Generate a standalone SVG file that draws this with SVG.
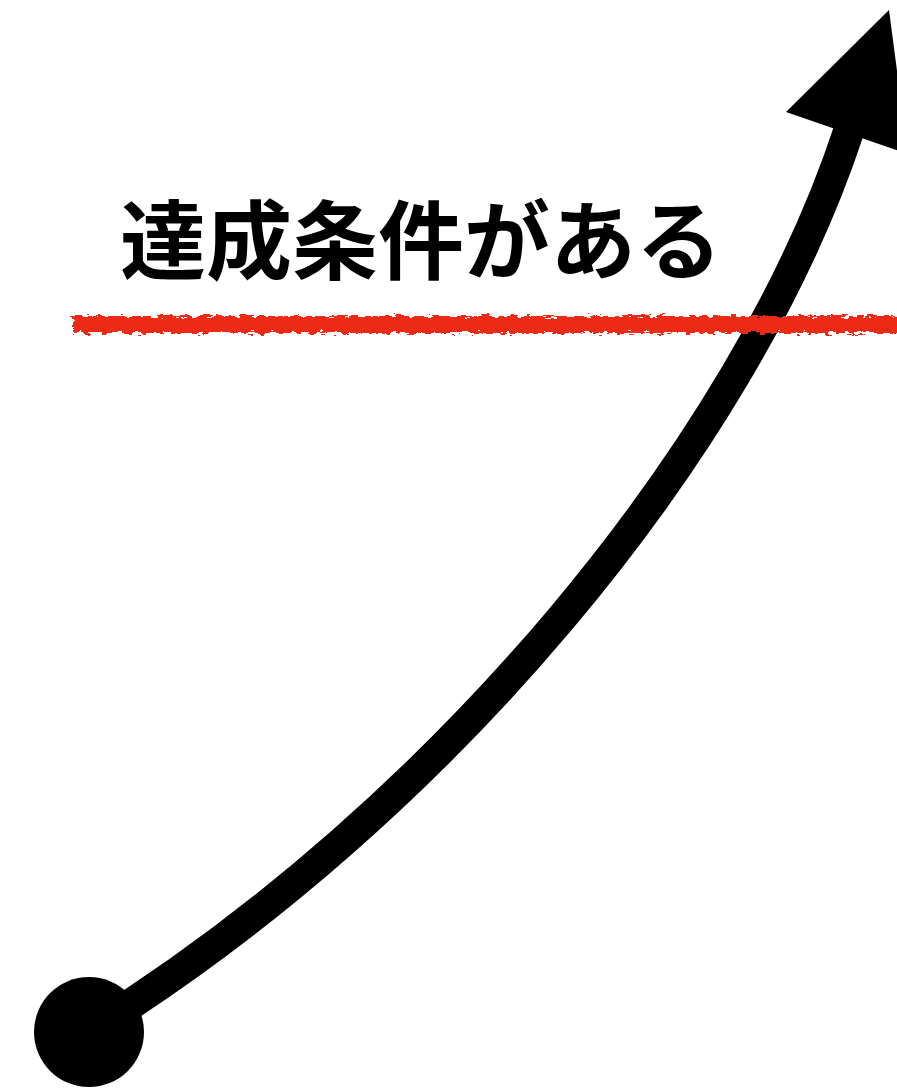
<svg xmlns="http://www.w3.org/2000/svg" width="897" height="1089" viewBox="0 0 897 1089">
  <style>
    .label { font-family: "Noto Sans CJK JP", "Noto Sans", sans-serif; font-weight: bold; font-size: 86px; fill: #000; }
    .shaft { fill: none; stroke: #000; stroke-width: 31; }
    .head { fill: #000; }
    .dot { fill: #000; }
    .redline { fill: #ec2a14; }
  </style>
  <defs>
    <filter id="rough" x="-5%" y="-100%" width="110%" height="300%">
      <feTurbulence type="fractalNoise" baseFrequency="0.12 0.35" numOctaves="3" seed="4" result="noise"/>
      <feDisplacementMap in="SourceGraphic" in2="noise" scale="10" xChannelSelector="R" yChannelSelector="G"/>
    </filter>
  </defs>
  <rect width="897" height="1089" fill="#fff"/>
  <g id="connectors">
    <path class="shaft" d="M89,1031 C439,814 745,448 849,130"/>
    <polygon class="head" points="889,10 786,112 908,154"/>
  </g>
  <g id="start-node">
    <circle class="dot" cx="89" cy="1032" r="55"/>
  </g>
  <g id="threshold-line">
    <rect class="redline" x="73" y="316" width="832" height="17" filter="url(#rough)"/>
  </g>
  <g id="label-node">
    <text class="label" x="421" y="273" text-anchor="middle">達成条件がある</text>
  </g>
</svg>
